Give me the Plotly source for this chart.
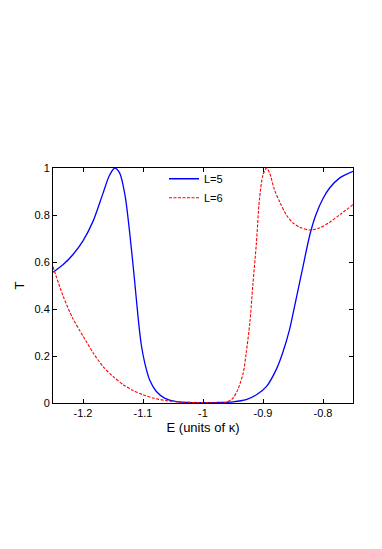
import plotly.graph_objects as go

# transmission vs energy
energy_l5 = [-1.25, -1.233, -1.217, -1.2, -1.183, -1.167, -1.156, -1.147, -1.139, -1.13,
             -1.122, -1.114, -1.108, -1.103, -1.097, -1.089, -1.078, -1.064, -1.044, -1.02,
             -1.0, -0.98, -0.95, -0.928, -0.911, -0.894, -0.878, -0.867, -0.856, -0.845,
             -0.833, -0.822, -0.812, -0.8, -0.789, -0.772, -0.75]
t_l5 = [0.556, 0.589, 0.631, 0.69, 0.775, 0.89, 0.968, 1.0, 0.979, 0.885,
        0.72, 0.52, 0.36, 0.25, 0.17, 0.099, 0.05, 0.021, 0.006, 0.002,
        0.001, 0.002, 0.005, 0.014, 0.035, 0.071, 0.142, 0.215, 0.31, 0.44,
        0.585, 0.715, 0.8, 0.87, 0.915, 0.958, 0.986]

energy_l6 = [-1.25, -1.233, -1.217, -1.2, -1.183, -1.167, -1.15, -1.133, -1.117, -1.1,
             -1.083, -1.061, -1.039, -1.0, -0.961, -0.95, -0.942, -0.933, -0.928, -0.922,
             -0.917, -0.911, -0.906, -0.9, -0.894, -0.889, -0.881, -0.872, -0.861, -0.85,
             -0.839, -0.822, -0.806, -0.789, -0.772, -0.75]
t_l6 = [0.58, 0.454, 0.36, 0.285, 0.213, 0.156, 0.113, 0.078, 0.054, 0.035,
        0.021, 0.01, 0.004, 0.002, 0.003, 0.021, 0.057, 0.128, 0.213, 0.34,
        0.5, 0.681, 0.865, 0.971, 1.0, 0.979, 0.908, 0.855, 0.8, 0.766,
        0.748, 0.736, 0.745, 0.769, 0.801, 0.844]

x_ticks = [-1.2, -1.1, -1.0, -0.9, -0.8]
x_labels = ['-1.2', '-1.1', '-1', '-0.9', '-0.8']
y_ticks = [0, 0.2, 0.4, 0.6, 0.8, 1]
y_labels = ['0', '0.2', '0.4', '0.6', '0.8', '1']

fig = go.Figure()

fig.add_trace(go.Scatter(
    x=energy_l5, y=t_l5, name='L=5', mode='lines',
    line=dict(color='rgb(0,0,255)', width=1.3, shape='spline', smoothing=0.8)
))
fig.add_trace(go.Scatter(
    x=energy_l6, y=t_l6, name='L=6', mode='lines',
    line=dict(color='rgb(255,0,0)', width=1.1, dash='3px,1.5px', shape='spline', smoothing=0.8)
))

fig.update_layout(
    width=382, height=549,
    plot_bgcolor='white', paper_bgcolor='white',
    font=dict(family='Liberation Sans, Arial', size=11, color='black'),
    margin=dict(l=45, r=37, t=160, b=154),
    legend=dict(x=0.37, y=1.016, xanchor='left', yanchor='top',
                bgcolor='rgba(0,0,0,0)', font=dict(size=11),
                itemwidth=30, tracegroupgap=0),
    showlegend=True
)

fig.update_xaxes(
    range=[-1.25, -0.75], tickvals=x_ticks, ticktext=x_labels,
    ticks='inside', ticklen=4, tickcolor='black', mirror='ticks',
    showline=True, linecolor='black', linewidth=1, showgrid=False, zeroline=False,
    title=dict(text='E (units of κ)', standoff=4)
)
fig.update_yaxes(
    range=[0, 1], tickvals=y_ticks, ticktext=y_labels,
    ticks='inside', ticklen=4, tickcolor='black', mirror='ticks',
    showline=True, linecolor='black', linewidth=1, showgrid=False, zeroline=False,
    title=dict(text='T', standoff=6)
)

fig.write_html("out.html")
